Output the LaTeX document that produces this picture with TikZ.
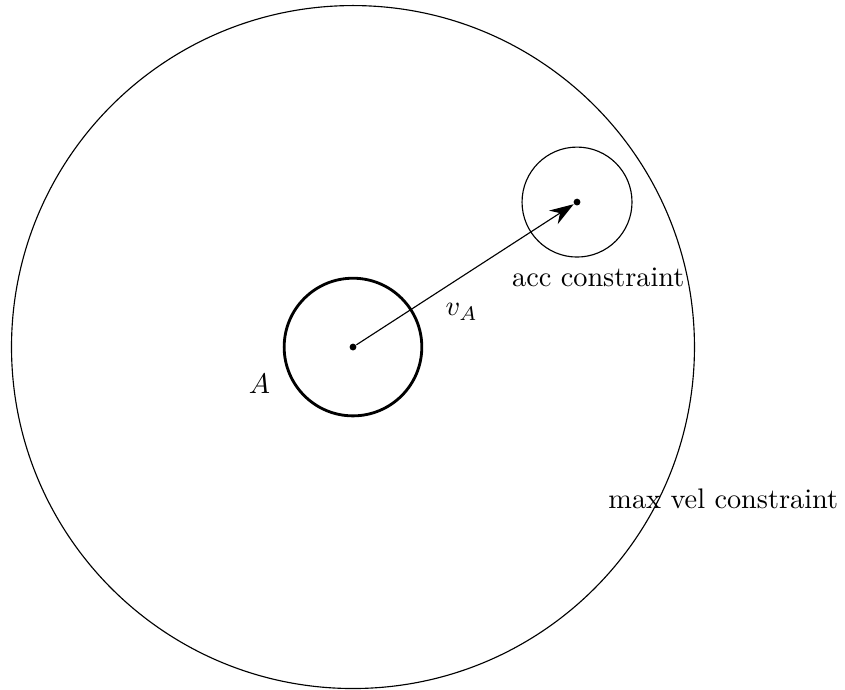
\documentclass[tikz,border=0pt]{standalone}
\usetikzlibrary{arrows.meta}
\begin{document}
\begin{tikzpicture}[
        every node/.style={font=\normalsize},
        ponto/.style={circle, fill, inner sep=0pt, minimum size=0.85mm},
        >={Stealth[length=3mm,width=2mm]}
    ]
        \useasboundingbox (-4.385,-4.248) rectangle (6.112,4.311);

        %--------------------------------
        % pontos
        %--------------------------------
        \node[ponto] (a) at (0,0) {};
        \node[ponto] (g) at (2.783,1.801) {};

        %--------------------------------
        % circulos
        %--------------------------------
        \draw (a.center) circle (4.242);
        \draw[line width=1pt] (a.center) circle (0.855);
        \draw (g.center) circle (0.683);

        %--------------------------------
        % velocidade
        %--------------------------------
        \draw[->] (a) -- (g);

        \node (lA) at (-1.161,-0.46) {$A$};
        \node (lv) at (1.35,0.435) {$v_A$};
        \node (lacc) at (3.047,0.87) {acc constraint};
        \node (lmax) at (4.6,-1.888) {max vel constraint};

    \end{tikzpicture}
\end{document}
